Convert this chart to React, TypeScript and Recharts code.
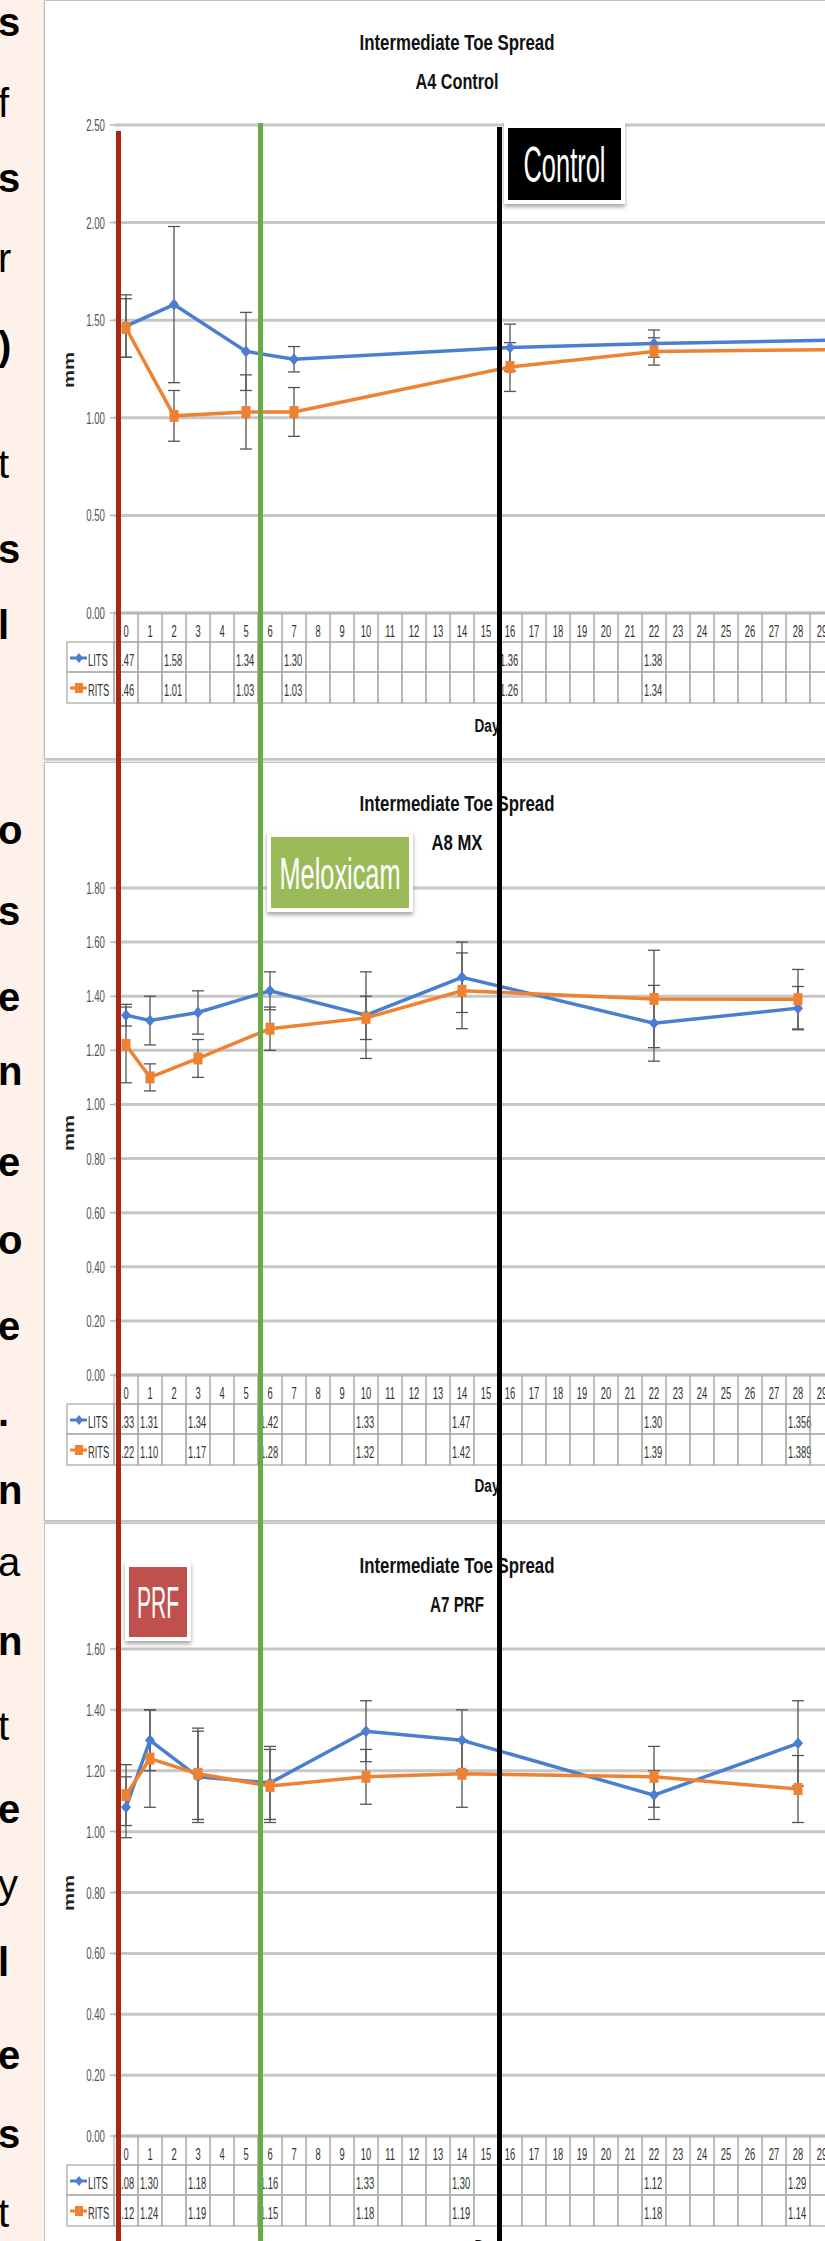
import React from "react";
import { LineChart, Line, XAxis, YAxis, CartesianGrid, ErrorBar } from "recharts";

const FONT = "'Liberation Sans', Arial, sans-serif";
const BLUE = "#4A7ECF";
const ORANGE = "#EF8232";
const GRID = "#c6c6c6";
const CELL = "#ababab";
const ERR = "#555555";

const days = [
  0, 1, 2, 3, 4, 5, 6, 7, 8, 9, 10, 11, 12, 13, 14, 15, 16, 17, 18, 19, 20, 21,
  22, 23, 24, 25, 26, 27, 28, 29, 30,
];

// A4 Control
const controlDays = [0, 2, 5, 7, 16, 22, 30];
const controlLits = [1.47, 1.58, 1.34, 1.3, 1.36, 1.38, 1.4];
const controlRits = [1.46, 1.01, 1.03, 1.03, 1.26, 1.34, 1.35];
const controlLitsErr = [0.16, 0.4, 0.2, 0.065, 0.12, 0.07, null];
const controlRitsErr = [0.15, 0.13, 0.19, 0.125, 0.125, 0.07, null];
const controlTicks = [0, 0.5, 1, 1.5, 2, 2.5];

// A8 MX
const mxDays = [0, 1, 3, 6, 10, 14, 22, 28];
const mxLits = [1.33, 1.31, 1.34, 1.42, 1.33, 1.47, 1.3, 1.356];
const mxRits = [1.22, 1.1, 1.17, 1.28, 1.32, 1.42, 1.39, 1.389];
const mxLitsErr = [0.04, 0.09, 0.08, 0.07, 0.16, 0.13, 0.14, 0.08];
const mxRitsErr = [0.14, 0.05, 0.07, 0.08, 0.08, 0.14, 0.18, 0.11];
const mxTicks = [0, 0.2, 0.4, 0.6, 0.8, 1, 1.2, 1.4, 1.6, 1.8];

// A7 PRF
const prfDays = [0, 1, 3, 6, 10, 14, 22, 28];
const prfLits = [1.08, 1.3, 1.18, 1.16, 1.33, 1.3, 1.12, 1.29];
const prfRits = [1.12, 1.24, 1.19, 1.15, 1.18, 1.19, 1.18, 1.14];
const prfLitsErr = [0.1, 0.1, 0.15, 0.12, 0.1, 0.1, 0.08, 0.14];
const prfRitsErr = [0.1, 0.16, 0.15, 0.12, 0.09, 0.11, 0.1, 0.11];
const prfTicks = [0, 0.2, 0.4, 0.6, 0.8, 1, 1.2, 1.4, 1.6];

// letters of the slide text peeking out on the left
const stripLetters = ["s", "f", "s", "r", ")", "t", "s", "l", "o", "s", "e", "n", "e", "o", "e", ".", "n", "a", "n", "t", "e", "y", "l", "e", "s", "t"];
const stripY = [36, 117, 192, 272, 360, 478, 563, 639, 844, 925, 1011, 1085, 1176, 1254, 1340, 1426, 1504, 1576, 1655, 1740, 1823, 1898, 1976, 2069, 2148, 2227];
const stripBold = [1, 0, 1, 0, 1, 0, 1, 1, 1, 1, 1, 1, 1, 1, 1, 1, 1, 0, 1, 0, 1, 0, 1, 1, 1, 0];

const fmt = (v: number) =>
  Math.abs(v * 100 - Math.round(v * 100)) < 1e-6 ? v.toFixed(2) : v.toFixed(3);

function buildRows(pd: number[], lits: number[], rits: number[], le: (number | null)[], re: (number | null)[]) {
  return days.map((d) => {
    const i = pd.indexOf(d);
    if (i < 0) return { day: d, lits: null, rits: null, litsErr: null, ritsErr: null };
    return { day: d, lits: lits[i], rits: rits[i], litsErr: le[i], ritsErr: re[i] };
  });
}

const panels = [
  {
    key: "control",
    top: 0,
    plotTop: 125,
    plotBottom: 613,
    yMax: 2.5,
    ticks: controlTicks,
    data: buildRows(controlDays, controlLits, controlRits, controlLitsErr, controlRitsErr),
  },
  {
    key: "mx",
    top: 762,
    plotTop: 888,
    plotBottom: 1375,
    yMax: 1.8,
    ticks: mxTicks,
    data: buildRows(mxDays, mxLits, mxRits, mxLitsErr, mxRitsErr),
  },
  {
    key: "prf",
    top: 1524,
    plotTop: 1649,
    plotBottom: 2136,
    yMax: 1.6,
    ticks: prfTicks,
    data: buildRows(prfDays, prfLits, prfRits, prfLitsErr, prfRitsErr),
  },
];

const CHART_W = 858;
const CHART_H = 760;
const BAND = 24;

function Sq({ x, y, sx = 0.55, size = 17, anchor = "start", weight = 400, fill = "#333", children }: any) {
  return (
    <text
      transform={`translate(${x},${y}) scale(${sx},1)`}
      fontSize={size}
      fontFamily={FONT}
      fontWeight={weight}
      fill={fill}
      textAnchor={anchor}
    >
      {children}
    </text>
  );
}

const diamondDot = (p: any) => {
  if (p.cx == null || p.cy == null || p.value == null) return <g key={`dd-${p.index}`} />;
  const { cx, cy } = p;
  return (
    <path
      key={`dd-${p.index}`}
      d={`M${cx},${cy - 6}L${cx + 5},${cy}L${cx},${cy + 6}L${cx - 5},${cy}Z`}
      fill={BLUE}
    />
  );
};

const squareDot = (p: any) => {
  if (p.cx == null || p.cy == null || p.value == null) return <g key={`sd-${p.index}`} />;
  return <rect key={`sd-${p.index}`} x={p.cx - 4.5} y={p.cy - 6} width={9} height={12} fill={ORANGE} />;
};

function TableTick(props: any) {
  const { x, y, payload, index, data } = props;
  const day = payload.value;
  const row = data.find((r: any) => r.day === day);
  const L = x - BAND / 2;
  return (
    <g>
      <rect x={L} y={y} width={BAND} height={29} fill="none" stroke={CELL} />
      <Sq x={x} y={y + 24} anchor="middle">{day}</Sq>
      <rect x={L} y={y + 29} width={BAND} height={30} fill="none" stroke={CELL} strokeWidth={1.3} />
      {row && row.lits != null && <Sq x={L + 2} y={y + 53}>{fmt(row.lits)}</Sq>}
      <rect x={L} y={y + 59} width={BAND} height={31} fill="none" stroke={CELL} strokeWidth={1.3} />
      {row && row.rits != null && <Sq x={L + 2} y={y + 83}>{fmt(row.rits)}</Sq>}
      {index === 0 && (
        <g>
          <rect x={L - 47} y={y + 29} width={47} height={30} fill="none" stroke={CELL} strokeWidth={1.3} />
          <rect x={L - 47} y={y + 59} width={47} height={31} fill="none" stroke={CELL} strokeWidth={1.3} />
          <line x1={L - 44} x2={L - 27} y1={y + 45} y2={y + 45} stroke={BLUE} strokeWidth={3} />
          <path d={`M${L - 35},${y + 40}L${L - 31},${y + 45}L${L - 35},${y + 50}L${L - 39},${y + 45}Z`} fill={BLUE} />
          <Sq x={L - 26} y={y + 53}>LITS</Sq>
          <line x1={L - 44} x2={L - 27} y1={y + 75} y2={y + 75} stroke={ORANGE} strokeWidth={3} />
          <rect x={L - 39} y={y + 70} width={8} height={10} fill={ORANGE} />
          <Sq x={L - 26} y={y + 83}>RITS</Sq>
        </g>
      )}
    </g>
  );
}

const yTick = (p: any) => (
  <Sq key={`yt-${p.index}`} x={p.x} y={p.y + 6} anchor="end" fill="#555" sx={0.57}>
    {Number(p.payload.value).toFixed(2)}
  </Sq>
);

function Panel({ cfg }: any) {
  const mt = cfg.plotTop - cfg.top;
  const plotH = cfg.plotBottom - cfg.plotTop;
  const xh = CHART_H - mt - plotH;
  return (
    <div style={{ position: "absolute", left: 0, top: cfg.top }}>
      <LineChart width={CHART_W} height={CHART_H} data={cfg.data} margin={{ top: mt, right: 0, bottom: 0, left: 45 }}>
        <CartesianGrid vertical={false} stroke={GRID} strokeWidth={3} />
        <XAxis
          dataKey="day"
          interval={0}
          padding={{ left: BAND / 2, right: BAND / 2 }}
          tickLine={false}
          tickSize={0}
          tickMargin={0}
          height={xh}
          axisLine={{ stroke: GRID, strokeWidth: 3 }}
          tick={(p: any) => <TableTick key={`xt-${p.index}`} {...p} data={cfg.data} />}
        />
        <YAxis
          type="number"
          domain={[0, cfg.yMax]}
          ticks={cfg.ticks}
          width={69}
          tickSize={4}
          tickMargin={5}
          axisLine={false}
          tickLine={{ stroke: "#999" }}
          tick={yTick}
        />
        <Line
          dataKey="lits"
          stroke={BLUE}
          strokeWidth={3.5}
          connectNulls
          dot={diamondDot}
          activeDot={false}
          isAnimationActive={false}
        >
          <ErrorBar dataKey="litsErr" direction="y" width={6} stroke={ERR} strokeWidth={1.3} />
        </Line>
        <Line
          dataKey="rits"
          stroke={ORANGE}
          strokeWidth={3.5}
          connectNulls
          dot={squareDot}
          activeDot={false}
          isAnimationActive={false}
        >
          <ErrorBar dataKey="ritsErr" direction="y" width={6} stroke={ERR} strokeWidth={1.3} />
        </Line>
      </LineChart>
    </div>
  );
}

function Title({ y, line1, line2, len2 }: any) {
  return (
    <g>
      <text x={457} y={y} textAnchor="middle" fontFamily={FONT} fontWeight={700} fontSize={22} textLength={195} lengthAdjust="spacingAndGlyphs" fill="#111">
        {line1}
      </text>
      <text x={457} y={y + 39} textAnchor="middle" fontFamily={FONT} fontWeight={700} fontSize={22} textLength={len2} lengthAdjust="spacingAndGlyphs" fill="#111">
        {line2}
      </text>
    </g>
  );
}

function Tag({ x, y, w, h, fill, label, size, len }: any) {
  return (
    <g>
      <rect x={x - 4} y={y - 6} width={w + 8} height={h + 10} fill="#fff" filter="url(#sh)" />
      <rect x={x} y={y} width={w} height={h} fill={fill} />
      <text x={x + w / 2} y={y + h / 2 + size * 0.36} textAnchor="middle" fontFamily={FONT} fontSize={size} textLength={len} lengthAdjust="spacingAndGlyphs" fill="#fff">
        {label}
      </text>
    </g>
  );
}

export default function App() {
  return (
    <div style={{ position: "absolute", left: 0, top: 0, width: 825, height: 2241, overflow: "hidden", background: "#fff" }}>
      <div style={{ position: "absolute", left: 0, top: 0, width: 44, height: 2241, background: "#FDF1E9" }} />
      <div style={{ position: "absolute", left: 44, top: 0, width: 820, height: 757, border: "1px solid #c4c4c4", background: "#fff", boxShadow: "0 2px 2px rgba(0,0,0,0.25)" }} />
      <div style={{ position: "absolute", left: 44, top: 762, width: 820, height: 757, border: "1px solid #c4c4c4", background: "#fff", boxShadow: "0 2px 2px rgba(0,0,0,0.25)" }} />
      <div style={{ position: "absolute", left: 44, top: 1523, width: 820, height: 740, border: "1px solid #c4c4c4", background: "#fff" }} />
      {panels.map((p) => (
        <Panel key={p.key} cfg={p} />
      ))}
      <svg width={825} height={2241} style={{ position: "absolute", left: 0, top: 0, pointerEvents: "none" }}>
        <defs>
          <filter id="sh" x="-20%" y="-20%" width="140%" height="160%">
            <feDropShadow dx="0" dy="3" stdDeviation="2" floodColor="#000" floodOpacity="0.35" />
          </filter>
        </defs>
        {stripLetters.map((ch, i) => (
          <text key={`sl-${i}`} x={-2} y={stripY[i]} fontFamily={FONT} fontSize={40} fontWeight={stripBold[i] ? 700 : 400} fill="#000">
            {ch}
          </text>
        ))}
        <Title y={50} line1="Intermediate Toe Spread" line2="A4 Control" len2={83} />
        <Title y={811} line1="Intermediate Toe Spread" line2="A8 MX" len2={51} />
        <Title y={1573} line1="Intermediate Toe Spread" line2="A7 PRF" len2={54} />
        {[370, 1133, 1893].map((cy, i) => (
          <text key={`mm-${i}`} transform={`translate(74,${cy}) rotate(-90)`} textAnchor="middle" fontFamily={FONT} fontWeight={700} fontSize={15} textLength={36} lengthAdjust="spacingAndGlyphs" fill="#222">
            mm
          </text>
        ))}
        {[732, 1492, 2253].map((by, i) => (
          <text key={`day-${i}`} x={487} y={by} textAnchor="middle" fontFamily={FONT} fontWeight={700} fontSize={18} textLength={25} lengthAdjust="spacingAndGlyphs" fill="#111">
            Day
          </text>
        ))}
        <Tag x={508} y={128} w={113} h={72} fill="#000" label="Control" size={50} len={82} />
        <Tag x={271} y={837} w={138} h={71} fill="#9BBB59" label="Meloxicam" size={45} len={121} />
        <Tag x={129} y={1567} w={58} h={70} fill="#C0504D" label="PRF" size={45} len={42} />
        <rect x={116} y={131} width={5} height={2110} fill="#A62812" />
        <rect x={258} y={123} width={5} height={2118} fill="#6AAA48" />
        <rect x={497} y={127} width={5} height={2114} fill="#000" />
      </svg>
    </div>
  );
}
